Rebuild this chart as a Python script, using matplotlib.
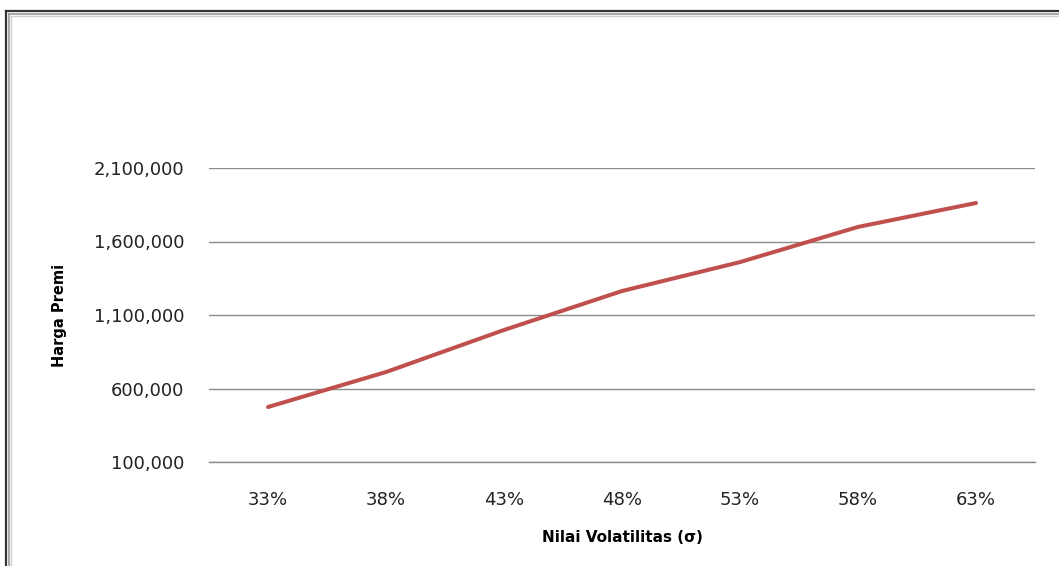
import matplotlib
matplotlib.use("Agg")
import matplotlib.pyplot as plt
from matplotlib.lines import Line2D
from matplotlib.ticker import FuncFormatter

# Volatility levels and premium prices
volatilitas = ["33%", "38%", "43%", "48%", "53%", "58%", "63%"]
harga_premi = [474000, 712000, 998000, 1263000, 1460000, 1699000, 1862000]
y_ticks = [100000, 600000, 1100000, 1600000, 2100000]

W, H = 1059, 566
fig = plt.figure(figsize=(W / 100, H / 100), dpi=100)

# chart border (double line like the document frame)
for off, c, lw in [(6, "#333333", 1.6), (8.5, "#9a9a9a", 1.2), (10.5, "#d0d0d0", 1.0)]:
    ytop = 1 - (off + 5) / H
    fig.add_artist(Line2D([off / W, off / W], [0, ytop], color=c, lw=lw,
                          transform=fig.transFigure))
    fig.add_artist(Line2D([off / W, 1], [ytop, ytop], color=c, lw=lw,
                          transform=fig.transFigure))

ax = fig.add_axes([209 / W, 1 - 462 / H, (1035 - 209) / W, (462 - 168) / H])
x = range(len(volatilitas))
ax.plot(x, harga_premi, color="#C0504D", lw=2.9, solid_capstyle="round")

ax.set_xlim(-0.5, len(volatilitas) - 0.5)
ax.set_ylim(y_ticks[0], y_ticks[-1])
ax.set_yticks(y_ticks)
ax.yaxis.set_major_formatter(FuncFormatter(lambda v, p: f"{int(v):,}"))
ax.set_xticks(list(x))
ax.set_xticklabels(volatilitas)

ax.grid(axis="y", color="#8c8c8c", lw=1.0)
ax.set_axisbelow(True)
for s in ["top", "right", "left"]:
    ax.spines[s].set_visible(False)
ax.spines["bottom"].set_color("#8c8c8c")
ax.spines["bottom"].set_linewidth(1.0)

ax.tick_params(axis="both", length=0, labelsize=13, colors="#222222")
ax.tick_params(axis="y", pad=18)
ax.tick_params(axis="x", pad=21)

ax.set_ylabel("Harga Premi", fontsize=10.5, fontweight="bold", labelpad=19)
ax.set_xlabel("Nilai Volatilitas (σ)", fontsize=11, fontweight="bold", labelpad=15)

fig.savefig("out.png", dpi=100)
